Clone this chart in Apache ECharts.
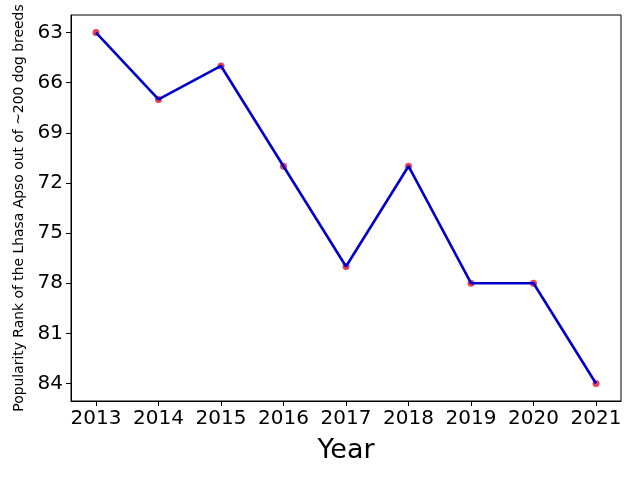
<!DOCTYPE html>
<html><head><meta charset="utf-8">
<script src="https://cdn.jsdelivr.net/npm/echarts@6/dist/echarts.min.js"></script>
<style>html,body{margin:0;padding:0;background:#fff}#c{width:640px;height:480px}</style>
</head><body><div id="c"></div>
<script>
const years = [2013, 2014, 2015, 2016, 2017, 2018, 2019, 2020, 2021];
const ranks = [63, 67, 65, 71, 77, 71, 78, 78, 84];
const yTicks = [63, 66, 69, 72, 75, 78, 81, 84];

const pts = years.map((y, i) => [y, ranks[i]]);
const font = 'DejaVu Sans';
const chart = echarts.init(document.getElementById('c'), null, {renderer: 'canvas'});
chart.setOption({
  animation: false,
  backgroundColor: '#fff',
  grid: {left: 71, right: 19, top: 15, bottom: 79, show: true, borderColor: '#000', borderWidth: 1, containLabel: false},
  xAxis: {
    type: 'value', min: 2012.6, max: 2021.4,
    name: 'Year', nameLocation: 'middle', nameGap: 36,
    nameTextStyle: {fontFamily: font, fontSize: 27, color: '#000'},
    axisLine: {show: true, onZero: false, lineStyle: {color: '#000', width: 1}},
    axisTick: {show: true, length: 5, inside: false, customValues: years, lineStyle: {color: '#000'}},
    axisLabel: {customValues: years, fontFamily: font, fontSize: 20, color: '#000', margin: 8, formatter: v => String(v)},
    splitLine: {show: false}
  },
  yAxis: {
    type: 'value', inverse: true, min: 61.95, max: 85.05,
    name: 'Popularity Rank of the Lhasa Apso out of ~200 dog breeds', nameLocation: 'middle', nameGap: 43,
    nameRotate: 90,
    nameTextStyle: {fontFamily: font, fontSize: 13.9, color: '#000'},
    axisLine: {show: true, onZero: false, lineStyle: {color: '#000', width: 1}},
    axisTick: {show: true, length: 5, customValues: yTicks, lineStyle: {color: '#000'}},
    axisLabel: {customValues: yTicks, fontFamily: font, fontSize: 20, color: '#000', margin: 8},
    splitLine: {show: false}
  },
  series: [
    {type: 'scatter', data: pts, symbol: 'circle', symbolSize: 7, itemStyle: {color: '#e0142e'}, z: 2},
    {type: 'line', data: pts, showSymbol: false, lineStyle: {color: '#0000cd', width: 2.6}, z: 3}
  ]
});
</script></body></html>
